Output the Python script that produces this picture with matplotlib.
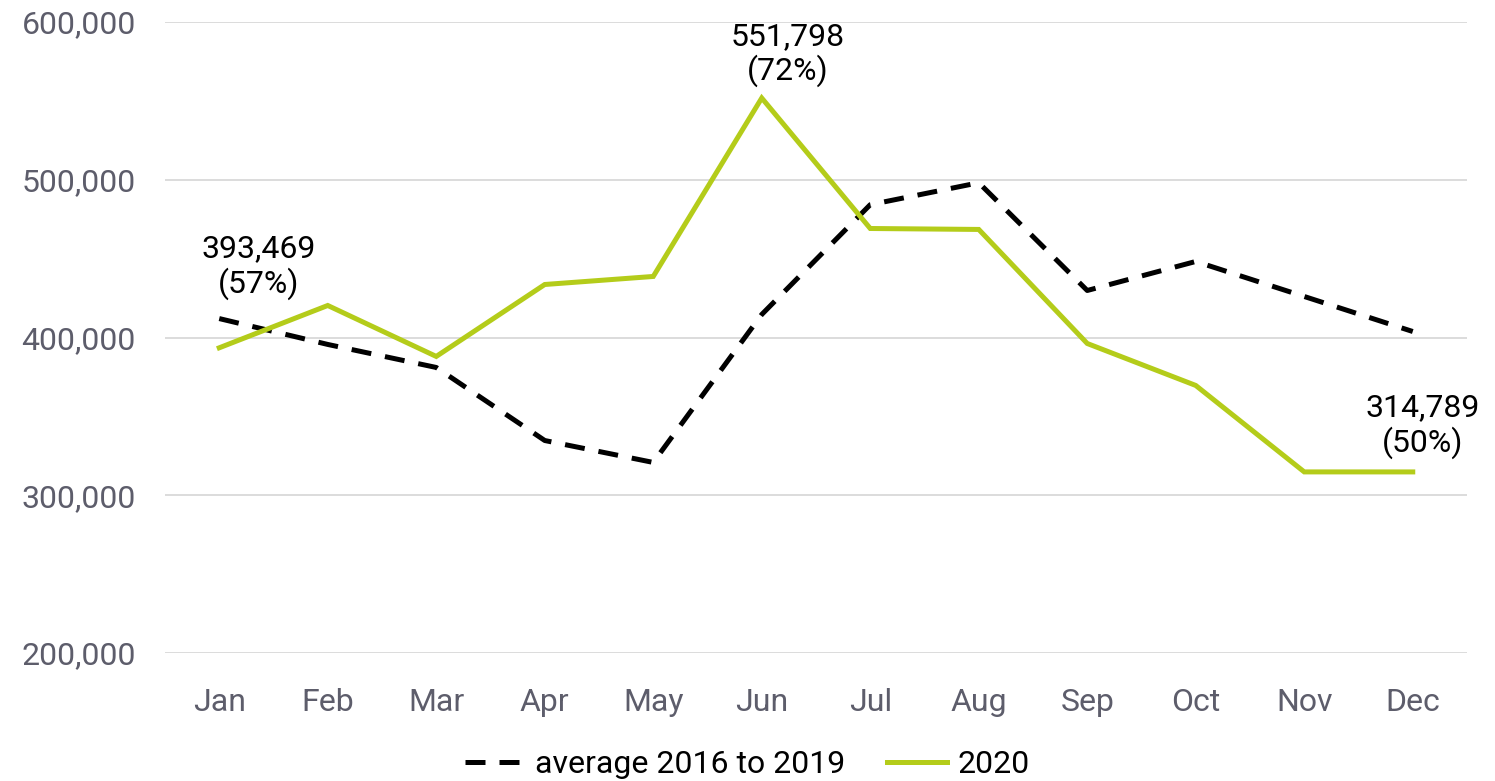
import matplotlib.pyplot as plt
from matplotlib.ticker import FuncFormatter

plt.rcParams['font.family'] = ['Roboto', 'DejaVu Sans']

# --- data ---
months = ['Jan', 'Feb', 'Mar', 'Apr', 'May', 'Jun',
          'Jul', 'Aug', 'Sep', 'Oct', 'Nov', 'Dec']
avg_2016_2019 = [412000, 395600, 381000, 334700, 320800, 414600,
                 484200, 498100, 429800, 448200, 426000, 403800]
y2020 = [393469, 420300, 388000, 433600, 438700, 551798,
         469100, 468500, 396200, 369600, 314800, 314789]

# labelled points: index, text, offset in pixels (dx, dy)
labels = [(0, '393,469\n(57%)', (39, 48)),
          (5, '551,798\n(72%)', (26, 11)),
          (11, '314,789\n(50%)', (10, 13))]

GREEN = '#b4cc1a'
GRAY_TXT = '#5d5d6b'
GRID = '#d9d9d9'

fig = plt.figure(figsize=(14.95, 7.81), dpi=100)
ax = fig.add_axes([165 / 1495, 128 / 781, 1302 / 1495, 631 / 781])

x = list(range(len(months)))
ax.plot(x, avg_2016_2019, color='black', lw=3.6, dashes=(4, 2.8),
        label='average 2016 to 2019', zorder=3)
ax.plot(x, y2020, color=GREEN, lw=3.6, label='2020', zorder=3,
        solid_joinstyle='miter')

for i, txt, (dx, dy) in labels:
    ax.annotate(txt, (i, y2020[i]), xytext=(dx, dy), textcoords='offset pixels',
                ha='center', va='bottom', fontsize=23, color='black',
                linespacing=1.15)

ax.set_xlim(-0.5, 11.5)
ax.set_ylim(200000, 600000)
ax.set_yticks([200000, 300000, 400000, 500000, 600000])
ax.yaxis.set_major_formatter(FuncFormatter(lambda v, p: f'{int(v):,}'))
ax.set_xticks(x)
ax.set_xticklabels(months)

ax.grid(axis='y', color=GRID, lw=1.3, zorder=0)
for s in ax.spines.values():
    s.set_visible(False)
ax.tick_params(axis='both', length=0, labelsize=23, labelcolor=GRAY_TXT)
ax.tick_params(axis='y', pad=21)
ax.tick_params(axis='x', pad=25)

ax.legend(loc='lower center', bbox_to_anchor=(0.447, -0.245), ncol=2,
          frameon=False, fontsize=23, handlelength=1.9, handletextpad=0.3,
          columnspacing=1.3)

fig.savefig('out.png', dpi=100)
